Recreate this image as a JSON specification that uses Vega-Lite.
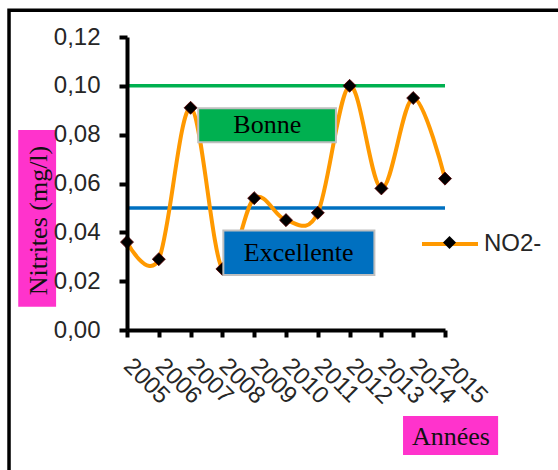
{
  "$schema": "https://vega.github.io/schema/vega-lite/v6.json",
  "width": 318,
  "height": 293,
  "autosize": "none",
  "padding": {"left": 127, "top": 37, "right": 113, "bottom": 140},
  "background": "white",
  "config": {
    "view": {"stroke": null},
    "axis": {"grid": false, "labelOverlap": false}
  },
  "datasets": {
    "mesures": [
      {"annee": 2005, "nitrites": 0.036, "serie": "NO2-"},
      {"annee": 2006, "nitrites": 0.029, "serie": "NO2-"},
      {"annee": 2007, "nitrites": 0.091, "serie": "NO2-"},
      {"annee": 2008, "nitrites": 0.025, "serie": "NO2-"},
      {"annee": 2009, "nitrites": 0.054, "serie": "NO2-"},
      {"annee": 2010, "nitrites": 0.045, "serie": "NO2-"},
      {"annee": 2011, "nitrites": 0.048, "serie": "NO2-"},
      {"annee": 2012, "nitrites": 0.100, "serie": "NO2-"},
      {"annee": 2013, "nitrites": 0.058, "serie": "NO2-"},
      {"annee": 2014, "nitrites": 0.095, "serie": "NO2-"},
      {"annee": 2015, "nitrites": 0.062, "serie": "NO2-"}
    ],
    "seuils": [
      {"classe": "Bonne", "seuil": 0.10},
      {"classe": "Excellente", "seuil": 0.05}
    ],
    "un": [{}]
  },
  "layer": [
    {
      "data": {"name": "un"},
      "mark": {"type": "rect", "fill": "transparent", "stroke": "black", "strokeWidth": 3.5},
      "encoding": {
        "x": {
          "datum": 2001.29, "type": "quantitative",
          "scale": {"domain": [2005, 2015], "nice": false, "zero": false},
          "axis": {
            "values": [2005, 2006, 2007, 2008, 2009, 2010, 2011, 2012, 2013, 2014, 2015],
            "tickCount": 11,
            "format": "d",
            "labelAngle": 45,
            "labelAlign": "left",
            "labelBaseline": "middle",
            "labelFont": "Liberation Sans",
            "labelFontSize": 24,
            "labelColor": "#262626",
            "labelPadding": 25,
            "labelOverlap": false,
            "labelFlush": false,
            "labelBound": false,
            "domainColor": "black",
            "domainWidth": 4,
            "tickColor": "black",
            "tickWidth": 4,
            "tickSize": 7,
            "zindex": 1,
            "title": "Années",
            "titleFont": "Liberation Serif",
            "titleFontSize": 26,
            "titleFontWeight": "normal",
            "titleColor": "#111111",
            "titleX": 323.5,
            "titleY": 106,
            "titleAlign": "center",
            "titleBaseline": "middle"
          }
        },
        "x2": {"datum": 2019},
        "y": {
          "datum": 0.131, "type": "quantitative",
          "scale": {"domain": [0, 0.12], "nice": false},
          "axis": {
            "values": [0, 0.02, 0.04, 0.06, 0.08, 0.1, 0.12],
            "tickCount": 7,
            "labelExpr": "replace(format(datum.value, '.2f'), '.', ',')",
            "labelFont": "Liberation Sans",
            "labelFontSize": 24,
            "labelColor": "#262626",
            "labelPadding": 19,
            "labelFlush": false,
            "labelOverlap": false,
            "domainColor": "black",
            "domainWidth": 4,
            "tickColor": "black",
            "tickWidth": 4,
            "tickSize": 8,
            "zindex": 1,
            "title": "Nitrites  (mg/l)",
            "titleFont": "Liberation Serif",
            "titleFontSize": 26,
            "titleFontWeight": "normal",
            "titleColor": "#111111",
            "titleAngle": -90,
            "titleX": -89,
            "titleY": 183,
            "titleAlign": "center",
            "titleBaseline": "middle"
          }
        },
        "y2": {"datum": -0.08}
      }
    },
    {
      "data": {"name": "un"},
      "mark": {"type": "rect", "fill": "#ff33cc"},
      "encoding": {
        "x": {"datum": 2001.58, "type": "quantitative"},
        "x2": {"datum": 2002.77},
        "y": {"datum": 0.0819, "type": "quantitative"},
        "y2": {"datum": 0.0095}
      }
    },
    {
      "data": {"name": "un"},
      "mark": {"type": "rect", "fill": "#ff33cc"},
      "encoding": {
        "x": {"datum": 2013.68, "type": "quantitative"},
        "x2": {"datum": 2016.67},
        "y": {"datum": -0.0352, "type": "quantitative"},
        "y2": {"datum": -0.0512}
      }
    },
    {
      "data": {"name": "seuils"},
      "mark": {"type": "rule", "strokeWidth": 3.5},
      "encoding": {
        "y": {"field": "seuil", "type": "quantitative"},
        "stroke": {
          "field": "classe", "type": "nominal",
          "scale": {"domain": ["Bonne", "Excellente"], "range": ["#00b050", "#0070c0"]},
          "legend": null
        }
      }
    },
    {
      "data": {"name": "mesures"},
      "mark": {"type": "line", "interpolate": "cardinal", "tension": 0, "strokeWidth": 4},
      "encoding": {
        "x": {"field": "annee", "type": "quantitative"},
        "y": {"field": "nitrites", "type": "quantitative"},
        "color": {
          "field": "serie", "type": "nominal",
          "scale": {"range": ["#ff9900"]},
          "legend": {
            "orient": "none",
            "legendX": 293,
            "legendY": 177,
            "title": null,
            "symbolType": "stroke",
            "symbolSize": 3136,
            "symbolStrokeWidth": 4,
            "labelFont": "Liberation Sans",
            "labelFontSize": 24,
            "labelColor": "#262626",
            "labelOffset": 4
          }
        }
      }
    },
    {
      "data": {"name": "mesures"},
      "mark": {"type": "point", "filled": true, "fill": "black", "stroke": "#5a0000", "strokeWidth": 0.8, "size": 170, "opacity": 1},
      "encoding": {
        "x": {"field": "annee", "type": "quantitative"},
        "y": {"field": "nitrites", "type": "quantitative"},
        "shape": {
          "field": "serie", "type": "nominal",
          "scale": {"domain": ["NO2-"], "range": ["diamond"]},
          "legend": {
            "orient": "none",
            "legendX": 315.5,
            "legendY": 198.5,
            "title": null,
            "symbolSize": 170,
            "symbolFillColor": "black",
            "symbolStrokeColor": "#5a0000",
            "symbolStrokeWidth": 0.8,
            "labelExpr": "''",
            "labelFontSize": 10
          }
        }
      }
    },
    {
      "data": {"name": "un"},
      "mark": {"type": "rect", "fill": "#00b050", "stroke": "#bfbfbf", "strokeWidth": 2},
      "encoding": {
        "x": {"datum": 2007.24, "type": "quantitative"},
        "x2": {"datum": 2011.57},
        "y": {"datum": 0.0908, "type": "quantitative"},
        "y2": {"datum": 0.0769}
      }
    },
    {
      "data": {"name": "un"},
      "mark": {"type": "rect", "fill": "#0070c0", "stroke": "#bfbfbf", "strokeWidth": 2},
      "encoding": {
        "x": {"datum": 2008.03, "type": "quantitative"},
        "x2": {"datum": 2012.78},
        "y": {"datum": 0.0407, "type": "quantitative"},
        "y2": {"datum": 0.0225}
      }
    },
    {
      "data": {"name": "un"},
      "mark": {"type": "text", "text": "Bonne", "font": "Liberation Serif", "fontSize": 26, "color": "black", "align": "center", "baseline": "middle"},
      "encoding": {
        "x": {"datum": 2009.41, "type": "quantitative"},
        "y": {"datum": 0.0839, "type": "quantitative"}
      }
    },
    {
      "data": {"name": "un"},
      "mark": {"type": "text", "text": "Excellente", "font": "Liberation Serif", "fontSize": 26, "color": "black", "align": "center", "baseline": "middle"},
      "encoding": {
        "x": {"datum": 2010.40, "type": "quantitative"},
        "y": {"datum": 0.0314, "type": "quantitative"}
      }
    }
  ]
}
